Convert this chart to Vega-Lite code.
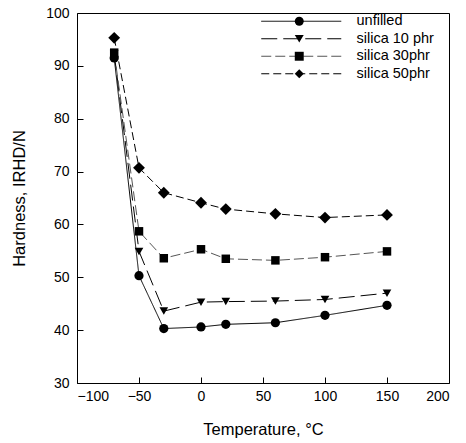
{
  "$schema": "https://vega.github.io/schema/vega-lite/v6.json",
  "width": 372,
  "height": 370,
  "autosize": {"type": "none"},
  "padding": {"left": 77, "top": 13, "right": 17, "bottom": 60},
  "background": "white",
  "config": {
    "font": "Liberation Sans",
    "view": {"stroke": "black", "strokeWidth": 1},
    "axis": {
      "domain": false,
      "grid": false,
      "ticks": true,
      "tickColor": "black",
      "tickSize": -6,
      "labelFont": "Liberation Sans",
      "labelFontSize": 14,
      "labelColor": "black",
      "titleFont": "Liberation Sans",
      "titleFontSize": 16.5,
      "titleFontWeight": "normal",
      "titleColor": "black"
    },
    "legend": {
      "labelFont": "Liberation Sans",
      "labelFontSize": 14.5,
      "labelColor": "black",
      "padding": 0,
      "rowPadding": 2.5
    }
  },
  "data": {
    "values": [
      {"temp": -70, "hardness": 91.5, "series": "unfilled"},
      {"temp": -50, "hardness": 50.3, "series": "unfilled"},
      {"temp": -30, "hardness": 40.3, "series": "unfilled"},
      {"temp": 0, "hardness": 40.6, "series": "unfilled"},
      {"temp": 20, "hardness": 41.1, "series": "unfilled"},
      {"temp": 60, "hardness": 41.4, "series": "unfilled"},
      {"temp": 100, "hardness": 42.8, "series": "unfilled"},
      {"temp": 150, "hardness": 44.7, "series": "unfilled"},
      {"temp": -70, "hardness": 92.3, "series": "silica 10 phr"},
      {"temp": -50, "hardness": 54.9, "series": "silica 10 phr"},
      {"temp": -30, "hardness": 43.6, "series": "silica 10 phr"},
      {"temp": 0, "hardness": 45.3, "series": "silica 10 phr"},
      {"temp": 20, "hardness": 45.4, "series": "silica 10 phr"},
      {"temp": 60, "hardness": 45.5, "series": "silica 10 phr"},
      {"temp": 100, "hardness": 45.8, "series": "silica 10 phr"},
      {"temp": 150, "hardness": 47.0, "series": "silica 10 phr"},
      {"temp": -70, "hardness": 92.5, "series": "silica 30phr"},
      {"temp": -50, "hardness": 58.7, "series": "silica 30phr"},
      {"temp": -30, "hardness": 53.6, "series": "silica 30phr"},
      {"temp": 0, "hardness": 55.3, "series": "silica 30phr"},
      {"temp": 20, "hardness": 53.5, "series": "silica 30phr"},
      {"temp": 60, "hardness": 53.2, "series": "silica 30phr"},
      {"temp": 100, "hardness": 53.8, "series": "silica 30phr"},
      {"temp": 150, "hardness": 54.9, "series": "silica 30phr"},
      {"temp": -70, "hardness": 95.3, "series": "silica 50phr"},
      {"temp": -50, "hardness": 70.7, "series": "silica 50phr"},
      {"temp": -30, "hardness": 66.0, "series": "silica 50phr"},
      {"temp": 0, "hardness": 64.1, "series": "silica 50phr"},
      {"temp": 20, "hardness": 62.9, "series": "silica 50phr"},
      {"temp": 60, "hardness": 62.0, "series": "silica 50phr"},
      {"temp": 100, "hardness": 61.3, "series": "silica 50phr"},
      {"temp": 150, "hardness": 61.8, "series": "silica 50phr"}
    ]
  },
  "encoding": {
    "x": {
      "field": "temp",
      "type": "quantitative",
      "scale": {"domain": [-100, 200], "nice": false, "zero": false},
      "axis": {
        "values": [-100, -50, 0, 50, 100, 150, 200],
        "title": "Temperature, °C",
        "labelPadding": 12,
        "titlePadding": 18
      }
    },
    "y": {
      "field": "hardness",
      "type": "quantitative",
      "scale": {"domain": [30, 100], "nice": false, "zero": false},
      "axis": {
        "values": [30, 40, 50, 60, 70, 80, 90, 100],
        "title": "Hardness, IRHD/N",
        "labelPadding": 14,
        "titlePadding": 18
      }
    }
  },
  "layer": [
    {
      "mark": {"type": "line", "strokeWidth": 1},
      "encoding": {
        "strokeDash": {
          "field": "series",
          "type": "nominal",
          "scale": {
            "domain": ["unfilled", "silica 10 phr", "silica 30phr", "silica 50phr"],
            "range": [[1, 0], [16, 6], [10, 4], [8, 4]]
          },
          "legend": {
            "title": null,
            "orient": "none",
            "legendX": 217,
            "legendY": 1,
            "symbolType": "M-40,0H40",
            "symbolSize": 4,
            "symbolStrokeWidth": 1,
            "symbolFillColor": "transparent",
            "labelOffset": 48
          }
        },
        "stroke": {
          "field": "series",
          "type": "nominal",
          "scale": {
            "domain": ["unfilled", "silica 10 phr", "silica 30phr", "silica 50phr"],
            "range": ["black", "black", "#555555", "black"]
          },
          "legend": {
            "title": null,
            "orient": "none",
            "legendX": 217,
            "legendY": 1,
            "symbolType": "M-40,0H40",
            "symbolSize": 4,
            "symbolStrokeWidth": 1,
            "symbolFillColor": "transparent",
            "labelOffset": 48
          }
        }
      }
    },
    {
      "mark": {"type": "point", "filled": true, "opacity": 1, "color": "black", "strokeWidth": 0},
      "encoding": {
        "shape": {
          "field": "series",
          "type": "nominal",
          "sort": ["unfilled", "silica 10 phr", "silica 30phr", "silica 50phr"],
          "scale": {
            "range": ["circle", "triangle-down", "square", "diamond"]
          },
          "legend": {
            "title": null,
            "orient": "none",
            "legendX": 215,
            "legendY": 1,
            "symbolSize": 80,
            "symbolFillColor": "black",
            "symbolStrokeColor": "black",
            "symbolStrokeWidth": 0,
            "labelExpr": "''"
          }
        },
        "size": {
          "field": "series",
          "type": "nominal",
          "sort": ["unfilled", "silica 10 phr", "silica 30phr", "silica 50phr"],
          "scale": {
            "type": "ordinal",
            "range": [85, 75, 72, 140]
          },
          "legend": null
        }
      }
    }
  ]
}
